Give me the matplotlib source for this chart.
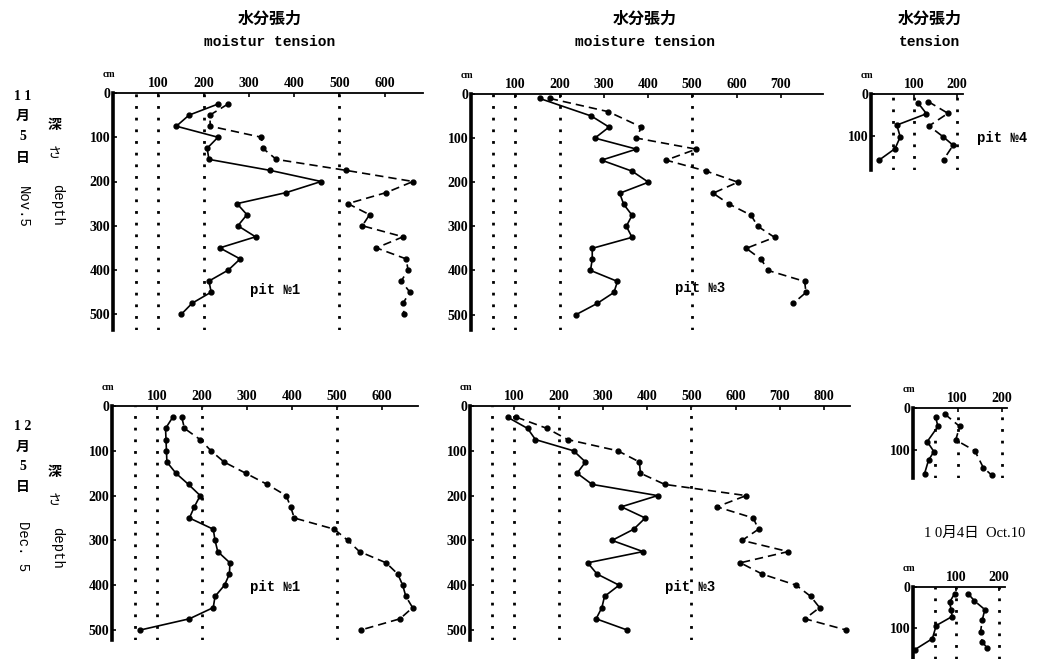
import matplotlib.pyplot as plt

W, H = 1061, 659

# depth (cm) of readings, 25 cm steps
DEPTHS = [25, 50, 75, 100, 125, 150, 175, 200, 225, 250,
          275, 300, 325, 350, 375, 400, 425, 450, 475, 500]

# Nov 5, pit No.1
nov_p1_solid = [232, 168, 140, 232, 208, 212, 348, 460, 383, 274,
                296, 276, 315, 236, 281, 255, 212, 217, 175, 151]
nov_p1_dashed = [254, 214, 215, 328, 331, 361, 516, 663, 604, 519,
                 567, 551, 641, 582, 648, 652, 637, 656, 641, 643]

# Nov 5, pit No.3
nov_p3_solid_depth = [10, 50, 75, 100, 125, 150, 175, 200, 225, 250,
                      275, 300, 325, 350, 375, 400, 425, 450, 475, 500]
nov_p3_solid = [155, 272, 312, 280, 374, 295, 364, 401, 336, 345,
                364, 351, 364, 274, 274, 270, 331, 323, 285, 238]
nov_p3_dashed_depth = [10, 40, 75, 100, 125, 150, 175, 200, 225, 250,
                       275, 300, 325, 350, 375, 400, 425, 450, 475]
nov_p3_dashed = [178, 310, 385, 374, 509, 441, 532, 603, 547, 584,
                 633, 648, 686, 622, 656, 671, 754, 757, 728]

# Nov 5, pit No.4
nov_p4_solid_depth = [22, 47, 74, 102, 130, 158]
nov_p4_solid = [110, 129, 60, 68, 56, 18]
nov_p4_dashed_depth = [18, 46, 76, 102, 122, 156]
nov_p4_dashed = [133, 179, 135, 168, 191, 169]

# Dec 5, pit No.1
dec_p1_solid = [135, 119, 120, 121, 122, 142, 170, 196, 183, 172,
                225, 229, 235, 262, 261, 250, 229, 225, 172, 63]
dec_p1_dashed = [155, 161, 196, 220, 249, 297, 345, 387, 397, 405,
                 494, 524, 550, 609, 635, 646, 653, 668, 640, 553]

# Dec 5, pit No.3
dec_p3_solid = [85, 130, 148, 234, 261, 242, 276, 424, 342, 396,
                370, 321, 391, 266, 287, 337, 304, 298, 285, 355]
dec_p3_dashed = [105, 174, 221, 334, 383, 385, 440, 624, 558, 640,
                 652, 615, 719, 611, 660, 737, 770, 790, 757, 850]

# Oct 10 (two small profiles)
oct_a_solid_depth = [22, 44, 80, 104, 124, 156]
oct_a_solid = [51, 56, 32, 47, 35, 26]
oct_a_dashed_depth = [14, 44, 76, 102, 142, 160]
oct_a_dashed = [71, 105, 96, 139, 158, 177]

oct_b_solid_depth = [16, 37, 57, 72, 94, 126, 153]
oct_b_solid = [97, 85, 89, 91, 54, 45, 4]
oct_b_dashed_depth = [16, 34, 55, 81, 110, 134, 148]
oct_b_dashed = [128, 143, 167, 161, 157, 161, 172]

REF_BIG = [50, 100, 200, 500]
REF_SMALL = [50, 100, 200]

NUM_FONT = dict(family='Liberation Serif', weight='bold')
CJK = ['Noto Sans CJK JP', 'DejaVu Sans']
MONO = 'Liberation Mono'

fig = plt.figure(figsize=(W / 100, H / 100), dpi=100)
fig.patch.set_facecolor('white')


def px(x, y):
    return x / W, 1 - y / H


def make_panel(x0, y0, sx, sy, xmax, ymax, xticks, yticks, refs):
    # x0, y0: pixel position of the origin; sx, sy: pixels per unit
    width = xmax * sx / W
    height = ymax * sy / H
    top = 1 - y0 / H
    ax = fig.add_axes([x0 / W, top - height, width, height])
    ax.set_xlim(0, xmax)
    ax.set_ylim(ymax, 0)
    ax.patch.set_alpha(0)
    ax.spines[['right', 'bottom']].set_visible(False)
    ax.spines['left'].set_linewidth(2.6)
    ax.spines['top'].set_linewidth(1.3)
    ax.xaxis.tick_top()
    ax.set_xticks(xticks)
    ax.set_yticks(yticks)
    ax.tick_params(direction='in', length=3, width=1.2, pad=2)
    for lab in ax.get_xticklabels() + ax.get_yticklabels():
        lab.set_fontfamily(NUM_FONT['family'])
        lab.set_fontweight(NUM_FONT['weight'])
        lab.set_fontsize(10)
    for r in refs:
        ax.axvline(r, color='black', lw=2.0, ls=(0, (1, 3.2)))
    ax.annotate('cm', xy=(0, 0), xycoords='data', xytext=(-3, 13),
                textcoords='offset points', ha='center', va='center',
                fontsize=7, **NUM_FONT)
    return ax


def profile(ax, vals, depths, dashed=False):
    ls = (0, (5, 3)) if dashed else '-'
    ax.plot(vals, depths, ls=ls, color='black', lw=1.2, marker='o',
            ms=3.5, clip_on=False)


# Nov 5 panels
axA = make_panel(113, 93, 0.4525, 0.4425, 685, 535,
                 [100, 200, 300, 400, 500, 600], [0, 100, 200, 300, 400, 500], REF_BIG)
profile(axA, nov_p1_solid, DEPTHS)
profile(axA, nov_p1_dashed, DEPTHS, dashed=True)

axB = make_panel(471, 94, 0.4425, 0.441, 795, 535,
                 [100, 200, 300, 400, 500, 600, 700], [0, 100, 200, 300, 400, 500], REF_BIG)
profile(axB, nov_p3_solid, nov_p3_solid_depth)
profile(axB, nov_p3_dashed, nov_p3_dashed_depth, dashed=True)

axC = make_panel(871, 94, 0.43, 0.42, 214, 181, [100, 200], [0, 100], REF_SMALL)
profile(axC, nov_p4_solid, nov_p4_solid_depth)
profile(axC, nov_p4_dashed, nov_p4_dashed_depth, dashed=True)

# Dec 5 panels
axD = make_panel(112, 406, 0.45, 0.448, 680, 522,
                 [100, 200, 300, 400, 500, 600], [0, 100, 200, 300, 400, 500], REF_BIG)
profile(axD, dec_p1_solid, DEPTHS)
profile(axD, dec_p1_dashed, DEPTHS, dashed=True)

axE = make_panel(470, 406, 0.4425, 0.448, 858, 522,
                 [100, 200, 300, 400, 500, 600, 700, 800], [0, 100, 200, 300, 400, 500], REF_BIG)
profile(axE, dec_p3_solid, DEPTHS)
profile(axE, dec_p3_dashed, DEPTHS, dashed=True)

# Oct 10 panels
axF = make_panel(913, 408, 0.445, 0.42, 211, 167, [100, 200], [0, 100], REF_SMALL)
profile(axF, oct_a_solid, oct_a_solid_depth)
profile(axF, oct_a_dashed, oct_a_dashed_depth, dashed=True)

axG = make_panel(913, 587, 0.43, 0.41, 214, 176, [100, 200], [0, 100], REF_SMALL)
profile(axG, oct_b_solid, oct_b_solid_depth)
profile(axG, oct_b_dashed, oct_b_dashed_depth, dashed=True)

# headers
for cx, sub in [(270, 'moistur tension'), (645, 'moisture tension'), (930, 'tension')]:
    fig.text(*px(cx, 19), '水分張力', family=CJK, fontsize=11.5, weight='bold',
             ha='center', va='center')
    fig.text(*px(cx, 42), sub, family=MONO, fontsize=10.5, weight='bold',
             ha='center', va='center')

# left side labels
for ys, month, eng, en_y in [((97, 116, 137, 159), '1 1', 'Nov.5', 207),
                             ((427, 447, 467, 488), '1 2', 'Dec. 5', 546)]:
    for y, s in zip(ys, [month, '月', '5', '日']):
        fig.text(*px(23, y), s, family=['Liberation Serif', 'Noto Sans CJK JP'],
                 fontsize=10, weight='bold', ha='center', va='center')
    fig.text(*px(23, en_y), eng, family=MONO, fontsize=10, rotation=-90,
             ha='center', va='center')
for y0, y_en in [(125, 205), (472, 548)]:
    fig.text(*px(55, y0), '深', family=CJK, fontsize=10, weight='bold',
             ha='center', va='center')
    fig.text(*px(55, y0 + 28), 'さ', family=CJK, fontsize=10,
             ha='center', va='center')
    fig.text(*px(57, y_en), 'depth', family=MONO, fontsize=10, rotation=-90,
             ha='center', va='center')

# pit labels
for x, y, s in [(275, 290, 'pit №1'), (700, 288, 'pit №3'), (1002, 138, 'pit №4'),
                (275, 587, 'pit №1'), (690, 587, 'pit №3')]:
    fig.text(*px(x, y), s, family=[MONO, 'DejaVu Sans'], fontsize=10, weight='bold',
             ha='center', va='center')

fig.text(*px(975, 533), '1 0月4日  Oct.10', family=['Liberation Serif', 'Noto Sans CJK JP'],
         fontsize=10.5, ha='center', va='center')

fig.savefig('out.png', dpi=100)
